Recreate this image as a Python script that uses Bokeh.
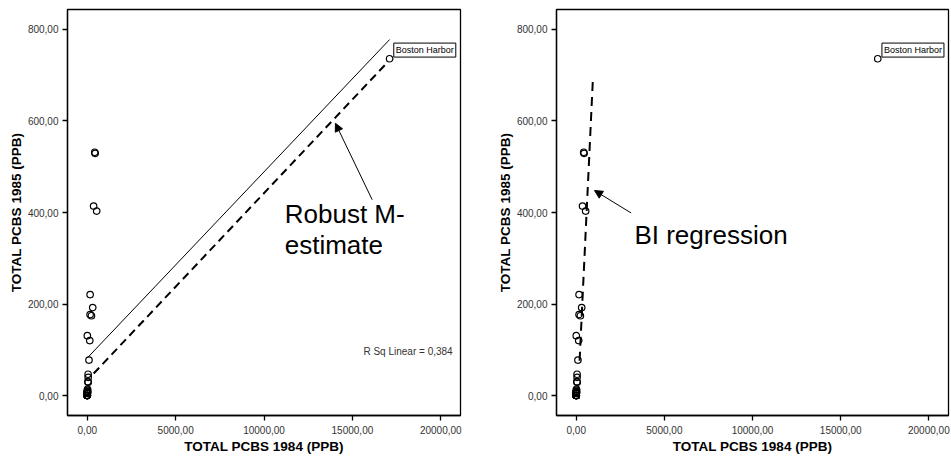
from bokeh.plotting import figure
from bokeh.layouts import row
from bokeh.models import Range1d, FixedTicker, Label, Arrow, NormalHead
from bokeh.embed import file_html
from bokeh.resources import INLINE

# ---- data ----
pcb_1984 = [95.28, 52.97, 533.58, 17104.86, 308.46, 159.96, 10.00, 234.43, 443.89, 2.50,
            51.00, 0.0, 9.10, 0.0, 140.00, 0.0, 12.00, 0.0, 0.0, 34.00, 0.0, 0.0, 0.0,
            422.10, 6.74, 7.06, 46.71, 159.56, 14.00, 4.18, 3.19, 8.77, 4.23, 357.0]
pcb_1985 = [77.55, 29.23, 403.10, 736.00, 192.15, 220.60, 8.62, 174.31, 529.28, 130.67,
            39.74, 0.0, 8.43, 0.0, 120.04, 0.0, 11.93, 0.0, 0.0, 30.14, 0.0, 0.0, 0.0,
            531.67, 9.30, 5.74, 46.47, 176.90, 13.69, 4.89, 6.60, 6.73, 4.28, 414.0]

fit_x = [0.0, 17105.0]          # least squares fit line (solid)
fit_y = [82.0, 778.0]
robust_x = [360.0, 17003.0]     # robust M-estimate (dashed)
robust_y = [48.0, 729.0]
bi_x = [190.0, 945.0]           # BI regression (dashed)
bi_y = [76.0, 692.0]

x_ticks = [0, 5000, 10000, 15000, 20000]
x_tick_labels = ["0,00", "5000,00", "10000,00", "15000,00", "20000,00"]
y_ticks = [0, 200, 400, 600, 800]
y_tick_labels = ["0,00", "200,00", "400,00", "600,00", "800,00"]

x_title = "TOTAL PCBS 1984 (PPB)"
y_title = "TOTAL PCBS 1985 (PPB)"
outlier_name = "Boston Harbor"
r2_text = "R Sq Linear = 0,384"

FONT = "Liberation Sans"


def base_fig(width, bl, br):
    p = figure(width=width, height=459, output_backend="svg", toolbar_location=None,
               x_range=Range1d(-1120, 21115), y_range=Range1d(-43.7, 843.7),
               min_border_left=bl, min_border_right=br, min_border_top=9, min_border_bottom=44)
    p.grid.visible = False
    p.outline_line_color = "black"
    p.outline_line_width = 1.3
    p.outline_line_alpha = 1.0
    p.background_fill_color = "white"
    p.border_fill_color = "white"
    for ax, ticks, labels in ((p.xaxis[0], x_ticks, x_tick_labels), (p.yaxis[0], y_ticks, y_tick_labels)):
        ax.ticker = FixedTicker(ticks=ticks)
        ax.major_label_overrides = {t: l for t, l in zip(ticks, labels)}
        ax.axis_line_color = "black"
        ax.axis_line_width = 1.3
        ax.major_tick_line_color = "black"
        ax.major_tick_line_width = 1.3
        ax.major_tick_out = 5
        ax.major_tick_in = 0
        ax.minor_tick_line_color = None
        ax.major_label_text_font = FONT
        ax.major_label_text_font_size = "10px"
        ax.major_label_text_color = "#333333"
        ax.axis_label_text_font = FONT
        ax.axis_label_text_font_size = "13.5px"
        ax.axis_label_text_font_style = "bold"
        ax.axis_label_text_color = "black"
    p.xaxis.axis_label = x_title
    p.yaxis.axis_label = y_title
    p.xaxis.major_label_standoff = 5
    p.xaxis.axis_label_standoff = 2
    p.yaxis.major_label_standoff = 4
    p.yaxis.axis_label_standoff = 1
    p.scatter(pcb_1984, pcb_1985, marker="circle", size=6.5, fill_alpha=0,
              line_color="black", line_width=1.2)
    p.add_layout(Label(x=17339, y=755, text=outlier_name, text_font=FONT, text_font_size="9px",
                       text_baseline="middle", text_color="black", border_line_color="black",
                       border_line_width=1, background_fill_color="white", padding=2))
    return p


# Left panel
p1 = base_fig(488, 67, 28)
p1.line(fit_x, fit_y, line_color="black", line_width=1)
p1.line(robust_x, robust_y, line_color="black", line_width=2, line_dash="8 5")
p1.add_layout(Arrow(end=NormalHead(size=8, fill_color="black", line_color="black"),
                    x_start=16117, y_start=428, x_end=14039, y_end=595,
                    line_color="black", line_width=1))
p1.add_layout(Label(x=11170, y=397, text="Robust M-", text_font=FONT, text_font_size="26px",
                    text_baseline="alphabetic", text_color="black"))
p1.add_layout(Label(x=11170, y=328, text="estimate", text_font=FONT, text_font_size="26px",
                    text_baseline="alphabetic", text_color="black"))
p1.add_layout(Label(x=15624, y=97, text=r2_text, text_font=FONT, text_font_size="10px",
                    text_baseline="middle", text_color="#333333"))

# Right panel
p2 = base_fig(463, 68, 3)
p2.line(bi_x, bi_y, line_color="black", line_width=2, line_dash="9 6")
p2.add_layout(Arrow(end=NormalHead(size=8, fill_color="black", line_color="black"),
                    x_start=3113, y_start=399, x_end=1036, y_end=448,
                    line_color="black", line_width=1))
p2.add_layout(Label(x=3300, y=351, text="BI regression", text_font=FONT, text_font_size="26px",
                    text_baseline="alphabetic", text_color="black"))

layout = row(p1, p2)
open("out.html", "w").write(file_html(layout, INLINE))
